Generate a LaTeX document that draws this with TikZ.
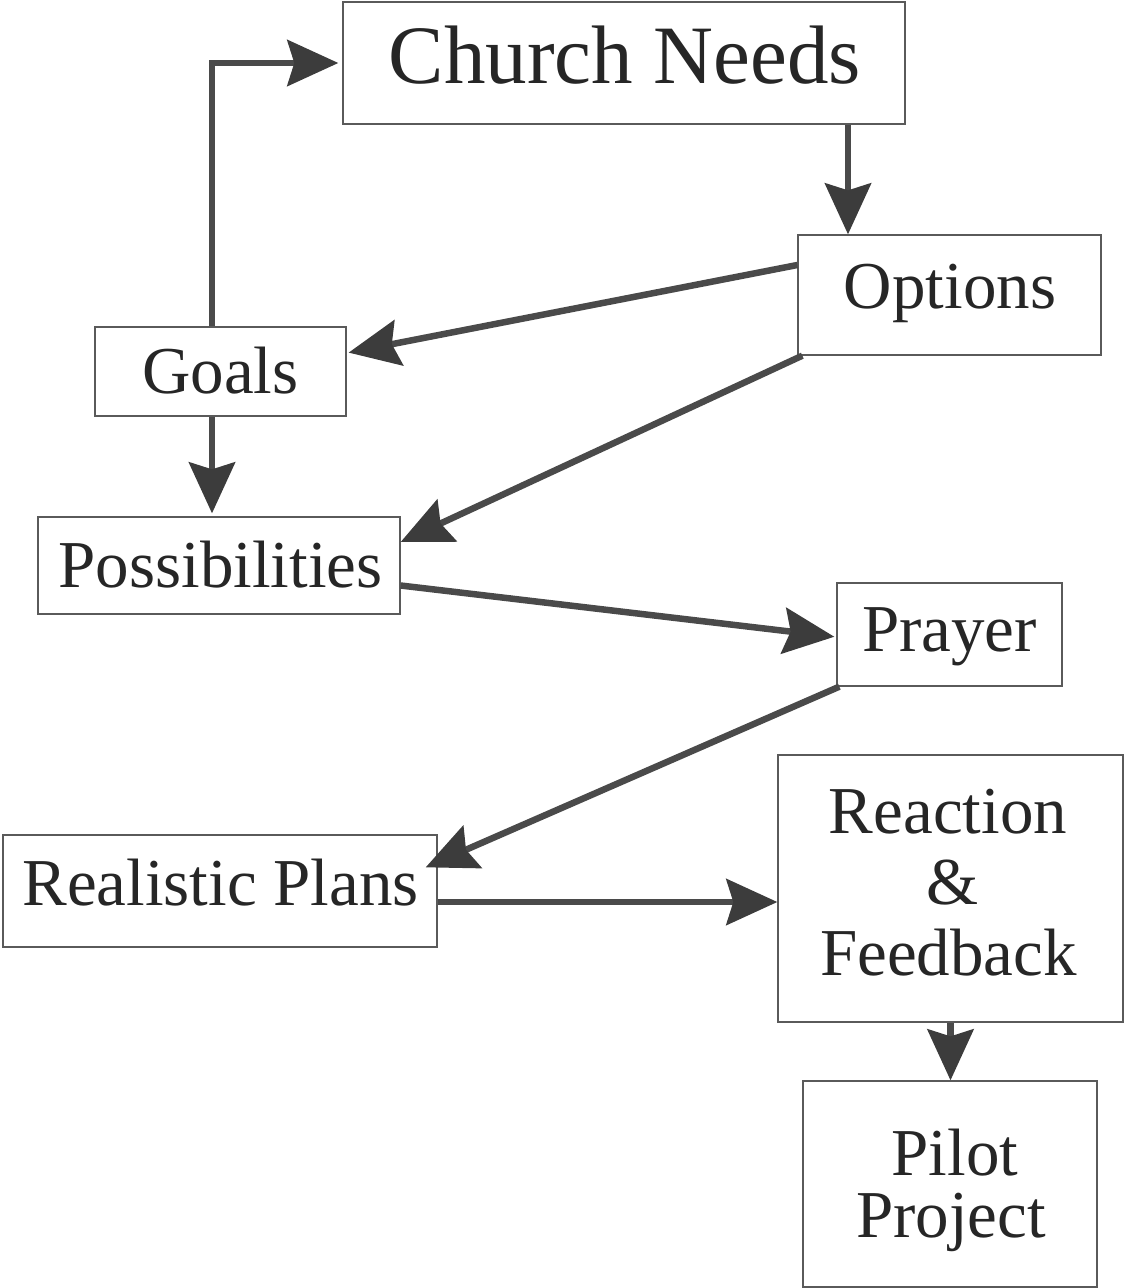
\documentclass[tikz,border=0pt]{standalone}
\usepackage{fontspec}
\setmainfont{Liberation Serif}
\usetikzlibrary{arrows.meta}

\definecolor{ink}{HTML}{262626}
\definecolor{frame}{HTML}{5A5A5A}
\definecolor{flow}{HTML}{4A4A4A}
\definecolor{flowtip}{HTML}{3C3C3C}

\tikzset{
  stepbox/.style={draw=frame, line width=1.3pt, inner sep=0pt, fill=none},
  lbl/.style={text=ink, inner sep=0pt, anchor=base, font=\fontsize{67}{71}\selectfont},
  biglbl/.style={lbl, font=\fontsize{83}{90}\selectfont},
  flowarrow/.style={draw=flow, line width=6.5pt,
    -{Stealth[length=51pt, width=46pt, inset=7pt, color=flowtip, fill=flowtip]}},
}

\begin{document}
\begin{tikzpicture}[x=1pt, y=-1pt]
  \useasboundingbox (0,0) rectangle (1126,1288);

  % boxes
  \node[stepbox, minimum width=562pt, minimum height=122pt] (cn)     at (624,63)    {};
  \node[stepbox, minimum width=303pt, minimum height=120pt] (opt)    at (949.5,295) {};
  \node[stepbox, minimum width=251pt, minimum height=89pt]  (goals)  at (220.5,371.5) {};
  \node[stepbox, minimum width=362pt, minimum height=97pt]  (poss)   at (219,565.5) {};
  \node[stepbox, minimum width=225pt, minimum height=103pt] (prayer) at (949.5,634.5) {};
  \node[stepbox, minimum width=434pt, minimum height=112pt] (rp)     at (220,891)   {};
  \node[stepbox, minimum width=345pt, minimum height=267pt] (rf)     at (950.5,888.5) {};
  \node[stepbox, minimum width=294pt, minimum height=206pt] (pilot)  at (950,1184)  {};

  % labels (placed on their baselines)
  \node[biglbl] (cnt)     at (625,83)    {Church Needs};
  \node[lbl]    (optt)    at (950,308)   {Options};
  \node[lbl]    (goalst)  at (220.5,393) {Goals};
  \node[lbl]    (posst)   at (220.5,587) {Possibilities};
  \node[lbl]    (prayert) at (949.5,651) {Prayer};
  \node[lbl]    (rpt)     at (220.5,905) {Realistic Plans};
  \node[lbl]    (rfa)     at (948,833)   {Reaction};
  \node[lbl]    (rfb)     at (953,904)   {\&};
  \node[lbl]    (rfc)     at (948.5,975) {Feedback};
  \node[lbl]    (ppa)     at (955,1175)  {Pilot};
  \node[lbl]    (ppb)     at (951,1237)  {Project};

  % connectors
  \draw[flowarrow, shorten >=4pt]
    ([xshift=-8.5pt]goals.north) |- (cn.west);
  \draw[flowarrow]
    ([xshift=224pt]cn.south) -- ([xshift=224pt]cn.south |- opt.north);
  \draw[flowarrow, shorten >=2pt]
    ([yshift=30pt]opt.west) -- ([yshift=18.5pt]goals.east);
  \draw[flowarrow]
    ([xshift=5pt]opt.south west) -- ([yshift=23.5pt]poss.east);
  \draw[flowarrow, shorten >=3pt]
    ([xshift=-8.5pt]goals.south) -- ([xshift=-8.5pt]goals.south |- poss.north);
  \draw[flowarrow, shorten >=2pt]
    ([yshift=-20pt]poss.east) -- ([yshift=-2.5pt]prayer.west);
  \draw[flowarrow]
    ([xshift=3pt]prayer.south west) -- ([xshift=-12pt,yshift=-33pt]rp.north east);
  \draw[flowarrow]
    ([yshift=-11pt]rp.east) -- ([yshift=-11pt]rp.east -| rf.west);
  \draw[flowarrow]
    (rf.south) -- (rf.south |- pilot.north);
\end{tikzpicture}
\end{document}
